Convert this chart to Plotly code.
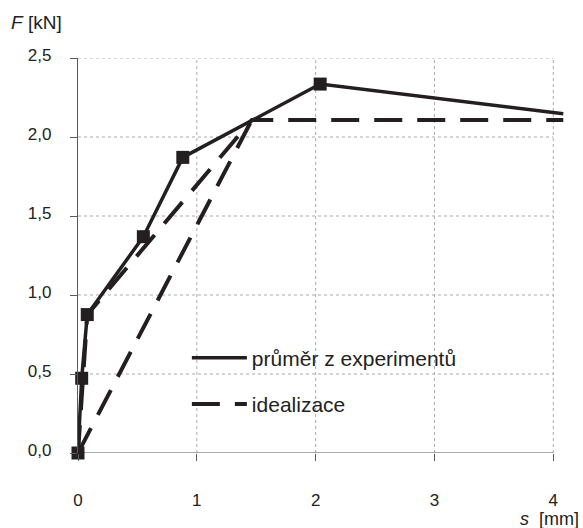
import plotly.graph_objects as go

# average of experiments (solid line with square markers)
s_mean = [0.0, 0.031, 0.078, 0.55, 0.882, 2.038, 4.084]
F_mean = [0.0, 0.473, 0.876, 1.369, 1.871, 2.335, 2.147]
mean_marker_on = [True, True, True, True, True, True, False]

# idealization (dashed)
s_ideal = [0.0, 0.078, 1.463, 4.084]
F_ideal = [0.0, 0.876, 2.108, 2.108]
s_ideal2 = [0.0, 1.463]
F_ideal2 = [0.0, 2.108]

x_ticks = [0, 1, 2, 3, 4]
y_ticks = [0.0, 0.5, 1.0, 1.5, 2.0, 2.5]
y_ticklabels = ["0,0", "0,5", "1,0", "1,5", "2,0", "2,5"]

legend_names = ["průměr z experimentů", "idealizace"]

INK = "#231f20"
AXIS = "#5a5a5a"
FONT = "Liberation Sans, Arial, sans-serif"

fig = go.Figure()

fig.add_trace(go.Scatter(
    x=s_ideal, y=F_ideal, mode="lines", name=legend_names[1],
    line=dict(color=INK, width=4, dash="28px,15px"),
    legendgroup="b", legendrank=2,
))
fig.add_trace(go.Scatter(
    x=s_ideal2, y=F_ideal2, mode="lines", showlegend=False, legendgroup="b",
    line=dict(color=INK, width=4, dash="28px,15px"),
))
fig.add_trace(go.Scatter(
    x=s_mean, y=F_mean, mode="lines", name=legend_names[0],
    line=dict(color=INK, width=3.5), legendgroup="a", legendrank=1,
))
fig.add_trace(go.Scatter(
    x=[s for s, m in zip(s_mean, mean_marker_on) if m],
    y=[f for f, m in zip(F_mean, mean_marker_on) if m],
    mode="markers", showlegend=False, cliponaxis=False, legendgroup="a",
    marker=dict(symbol="square", size=13, color=INK),
))

shapes = []
grid = dict(color="#ababab", width=1, dash="dot")
for yv in y_ticks[1:]:
    shapes.append(dict(type="line", xref="x", yref="y", x0=0, x1=x_ticks[-1],
                       y0=yv, y1=yv, line=grid, layer="below"))
for xv in x_ticks[1:]:
    shapes.append(dict(type="line", xref="x", yref="y", x0=xv, x1=xv,
                       y0=0, y1=y_ticks[-1], line=grid, layer="below"))
# x axis line only up to s = 4
shapes.append(dict(type="line", xref="x", yref="y", x0=0, x1=x_ticks[-1], y0=0, y1=0,
                   line=dict(color=AXIS, width=1.2), layer="below"))

fig.update_layout(
    width=583, height=528,
    margin=dict(l=78, r=19, t=58, b=75),
    paper_bgcolor="white", plot_bgcolor="white",
    font=dict(family=FONT, size=17, color="#222222"),
    showlegend=True,
    legend=dict(x=0.224, y=0.182, xanchor="left", yanchor="middle",
                bgcolor="rgba(0,0,0,0)", borderwidth=0, traceorder="grouped",
                font=dict(size=21), tracegroupgap=16, itemwidth=55),
    shapes=shapes,
    xaxis=dict(range=[0, 4.09], tickvals=x_ticks, ticktext=[str(v) for v in x_ticks],
               showgrid=False, zeroline=False, showline=False,
               ticks="outside", ticklen=7, tickcolor=AXIS, tickwidth=1.2,
               ticklabelstandoff=25, tickfont=dict(size=17)),
    yaxis=dict(range=[0, 2.5], tickvals=y_ticks, ticktext=y_ticklabels,
               showgrid=False, zeroline=False, showline=True, linecolor=AXIS,
               linewidth=1.2, ticks="outside", ticklen=7, tickcolor=AXIS,
               tickwidth=1.2, ticklabelstandoff=15, ticklabelshift=-3,
               tickfont=dict(size=17)),
    annotations=[
        dict(text="<i>F</i> [kN]", xref="paper", yref="paper", x=-0.142, y=1.089,
             xanchor="left", yanchor="middle", showarrow=False, font=dict(size=19)),
        dict(text="<i>s</i>  [mm]", xref="paper", yref="paper", x=1.035, y=-0.166,
             xanchor="right", yanchor="middle", showarrow=False, font=dict(size=18)),
    ],
)

fig.write_html("out.html", config={"displayModeBar": False},
               post_script="document.body.style.margin='0';document.body.style.padding='0';")
